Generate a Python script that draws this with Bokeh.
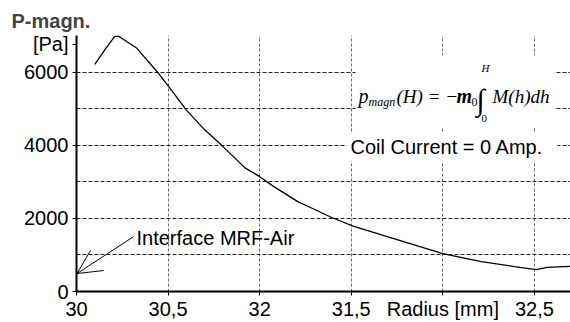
from bokeh.plotting import figure
from bokeh.models import (Label, BoxAnnotation, Arrow, OpenHead, FixedTicker,
                          SingleIntervalTicker, Range1d)
from bokeh.embed import file_html
from bokeh.resources import INLINE

# ---- data ----
radius = [30.10, 30.16, 30.21, 30.23, 30.33, 30.44, 30.51, 30.60, 30.70, 30.79,
          30.92, 31.00, 31.08, 31.21, 31.28, 31.39, 31.51, 31.71, 32.00, 32.21,
          32.39, 32.51, 32.57, 32.70]
pressure = [6210, 6650, 6980, 6980, 6650, 6010, 5560, 4960, 4420, 4010,
            3380, 3140, 2860, 2450, 2290, 2030, 1790, 1480, 1035, 817,
            681, 600, 662, 690]
x_ticks = [30, 30.5, 31, 31.5, 32, 32.5]
x_tick_labels = ["30", "30,5", "32", "31,5", "Radius [mm]", "32,5"]
y_ticks = [0, 2000, 4000, 6000, 6755]
y_tick_labels = ["0", "2000", "4000", "6000", "[Pa]"]

X0, X1 = 30.0, 32.697
Y0, Y1 = 0, 7000
FONT = "Liberation Sans"
SERIF = "Liberation Serif"

p = figure(width=570, height=322, output_backend="svg", toolbar_location=None,
           x_range=Range1d(X0, X1), y_range=Range1d(Y0, Y1),
           min_border_left=76, min_border_top=35, min_border_bottom=30,
           min_border_right=0, title="P-magn.")
p.outline_line_color = None
p.background_fill_color = "white"
p.title.text_font = FONT
p.title.text_font_size = "20px"
p.title.text_font_style = "bold"
p.title.align = "left"
p.title.offset = -65
p.title.standoff = 8

# frame geometry in pixels (for annotation placement only)
FL, FR, FT, FB = 76, 570, 35, 292
def dx(px):
    return X0 + (px - FL) / (FR - FL) * (X1 - X0)
def dy(py):
    return Y0 + (FB - py) / (FB - FT) * (Y1 - Y0)

# axes
p.xaxis.ticker = FixedTicker(ticks=x_ticks)
p.xaxis.major_label_overrides = {t: l for t, l in zip(x_ticks, x_tick_labels)}
p.yaxis.ticker = FixedTicker(ticks=y_ticks)
p.yaxis.major_label_overrides = {t: l for t, l in zip(y_ticks, y_tick_labels)}
for ax in (p.xaxis, p.yaxis):
    ax.axis_line_width = 2
    ax.axis_line_color = "black"
    ax.major_tick_in = 0
    ax.major_tick_out = 4
    ax.major_tick_line_color = "black"
    ax.minor_tick_out = 0
    ax.minor_tick_in = 0
    ax.major_label_text_font = FONT
    ax.major_label_text_font_size = "20px"
    ax.major_label_text_color = "black"
p.xaxis.major_label_standoff = 2
p.yaxis.major_label_standoff = 4

# grids
p.ygrid.ticker = SingleIntervalTicker(interval=1000)
p.ygrid.grid_line_color = "#222222"
p.ygrid.grid_line_dash = "4 2"
p.ygrid.grid_line_width = 1
p.xgrid.ticker = FixedTicker(ticks=x_ticks)
p.xgrid.grid_line_color = "#666666"
p.xgrid.grid_line_dash = "3 2"
p.xgrid.grid_line_width = 1

# curve
p.line(radius, pressure, line_color="black", line_width=1.3)

# white boxes behind the text blocks
p.add_layout(BoxAnnotation(left=dx(355), right=dx(554), top=dy(55), bottom=dy(128),
                           fill_color="white", fill_alpha=1, line_color=None))
p.add_layout(BoxAnnotation(left=dx(346), right=dx(557), top=dy(133), bottom=dy(161),
                           fill_color="white", fill_alpha=1, line_color=None))

def lab(text, px, py, size=20, font=FONT, style="normal", align="left",
        baseline="alphabetic"):
    p.add_layout(Label(x=dx(px), y=dy(py), text=text, text_font=font,
                       text_font_size=f"{size}px", text_font_style=style,
                       text_align=align, text_baseline=baseline,
                       text_color="black"))

# formula
lab("p", 358, 96, size=20, font=SERIF, style="italic")
lab("magn", 368, 102, size=12, font=SERIF, style="italic")
lab("(H) = \u2212", 396, 96, size=19, font=SERIF, style="italic")
lab("m", 456, 96, size=20, font=SERIF, style="bold italic")
lab("0", 471, 102, size=12, font=SERIF)
lab("\u222b", 476, 99, size=30, font=SERIF)
lab("H", 481, 68, size=11, font=SERIF, style="italic", baseline="middle")
lab("0", 481, 118, size=11, font=SERIF, baseline="middle")
lab("M(h)dh", 492, 96, size=19, font=SERIF, style="italic")

# coil current
lab("Coil Current = 0 Amp.", 350, 147, baseline="middle")

# interface annotation
p.add_layout(Arrow(end=OpenHead(size=24, line_width=1, line_color="black"),
                   x_start=dx(133), y_start=dy(237), x_end=dx(76.5), y_end=dy(274),
                   line_color="black", line_width=1))
lab("Interface MRF-Air", 136, 238, baseline="middle")

open("out.html", "w").write(file_html(p, INLINE))
